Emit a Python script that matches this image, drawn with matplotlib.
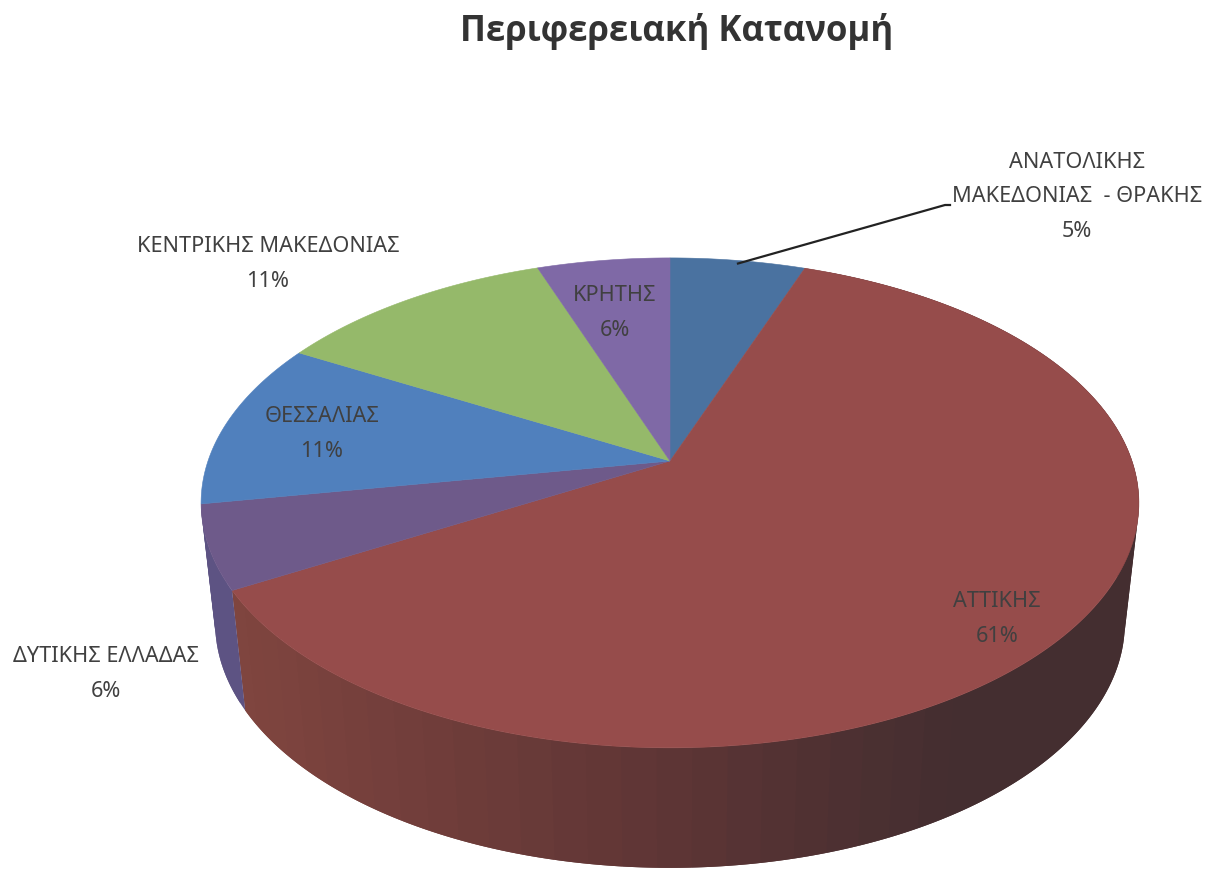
import numpy as np
import matplotlib
matplotlib.use("Agg")
import matplotlib.pyplot as plt
from matplotlib.patches import Polygon
from matplotlib.colors import to_rgb

title = "Περιφερειακή Κατανομή"
regions = ["ΑΝΑΤΟΛΙΚΗΣ\nΜΑΚΕΔΟΝΙΑΣ  - ΘΡΑΚΗΣ", "ΑΤΤΙΚΗΣ", "ΔΥΤΙΚΗΣ ΕΛΛΑΔΑΣ",
           "ΘΕΣΣΑΛΙΑΣ", "ΚΕΝΤΡΙΚΗΣ ΜΑΚΕΔΟΝΙΑΣ", "ΚΡΗΤΗΣ"]
shares = [5.5, 61.2, 5.5, 11.0, 11.4, 5.4]
share_labels = ["5%", "61%", "6%", "11%", "11%", "6%"]
top_colors = ["#4a72a0", "#964c4b", "#6e5a8a", "#5080bd", "#95b96a", "#7f69a6"]
label_xy = [(1077, 197), (997, 619), (106, 674), (322, 434), (268, 264), (615, 313)]

plt.rcParams["font.family"] = ["Noto Sans", "DejaVu Sans"]
fig = plt.figure(figsize=(12.06, 8.69), dpi=100, facecolor="white")
ax = fig.add_axes([0, 0, 1, 1])
ax.set_xlim(0, 1206)
ax.set_ylim(869, 0)
ax.axis("off")

X0, Y0, A, B, K = 670.0, 461.0, 462.0, 237.8, -0.171
LOWER_SX, LOWER_SY, LOWER_DY = 0.97, 1.0, 120.0


def project(theta, lower=False):
    u, v = np.sin(theta), np.cos(theta)
    d = 1 - K * v
    x, y = A * u / d, -B * v / d
    if lower:
        return X0 + LOWER_SX * x, Y0 + LOWER_DY + LOWER_SY * y
    return X0 + x, Y0 + y


def mix(c1, c2, t):
    a, b = np.array(to_rgb(c1)), np.array(to_rgb(c2))
    return tuple(a + (b - a) * t)


edges = 2 * np.pi * np.cumsum([0] + shares) / sum(shares)

# side wall: Attiki and Dytiki Ellada slices, in overlapping facets
wall_styles = {1: ("#442e30", "#5e3535", "#80453f"), 2: ("#5d5383",) * 3}
facets = {1: 60, 2: 12}
for i, style in wall_styles.items():
    th = np.linspace(edges[i], edges[i + 1], facets[i] + 1)
    for k in range(facets[i]):
        a = th[k]
        b = th[min(k + 2, facets[i])]
        mid = project(0.5 * (th[k] + th[k + 1]))[0]
        t = min(max((mid - 230) / (950 - 230), 0), 1)
        if t > 0.6:
            col = mix(style[0], style[1], (1 - t) / 0.4)
        else:
            col = mix(style[1], style[2], (0.6 - t) / 0.6)
        seg = np.linspace(a, b, 8)
        xu, yu = project(seg)
        xl, yl = project(seg, True)
        pts = list(zip(xu, yu)) + list(zip(xl[::-1], yl[::-1]))
        ax.add_patch(Polygon(pts, closed=True, facecolor=col, edgecolor="none", zorder=1))

# top face
for i, col in enumerate(top_colors):
    th = np.linspace(edges[i], edges[i + 1], 200)
    xs, ys = project(th)
    pts = [(X0, Y0)] + list(zip(xs, ys))
    ax.add_patch(Polygon(pts, closed=True, facecolor=col, edgecolor=col, lw=0.4, zorder=2))

# leader line for the first slice
lx, ly = project(0.5 * (edges[0] + edges[1]))
ax.plot([lx, 945, 950], [ly + 3, 205, 205], color="#222222", lw=1.6, zorder=3,
        solid_joinstyle="miter")

TXT = "#404040"
for name, pct, (x, y) in zip(regions, share_labels, label_xy):
    ax.text(x, y, name + "\n" + pct, ha="center", va="center", fontsize=15.6,
            color=TXT, linespacing=1.83, zorder=4)

ax.text(677, 32, title, ha="center", va="center", fontsize=25, fontweight="bold",
        family=["Open Sans", "DejaVu Sans"], color="#333333", zorder=4)

fig.savefig("out.png", dpi=100)
